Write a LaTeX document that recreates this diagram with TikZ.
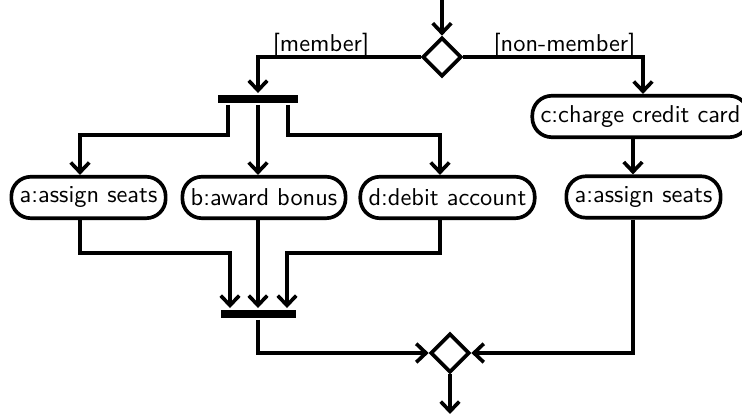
\documentclass[tikz,border=0pt]{standalone}
\usetikzlibrary{shapes.geometric,arrows.meta}
\begin{document}
\begin{tikzpicture}[x=0.41pt,y=-0.41pt,
  line width=1.5pt,
  font=\sffamily,
  act/.style={draw,rectangle,rounded corners=8pt,minimum height=17pt,inner xsep=3.4pt,inner ysep=0pt},
  bar/.style={fill=black,draw=none,rectangle,inner sep=0pt,minimum height=3.4pt},
  dec/.style={draw,diamond,inner sep=0pt,minimum width=16pt,minimum height=16pt},
  arr/.style={-{Straight Barb[length=4pt,width=7.6pt]}},
  guard/.style={anchor=base,inner sep=0pt}]
\useasboundingbox (0,0) rectangle (742,416);
% nodes
\node[dec] (top) at (442,57) {};
\node[dec] (bot) at (450,353) {};
\node[bar,minimum width=32.8pt] (fork) at (258,99) {};
\node[bar,minimum width=30.8pt] (join) at (258.5,314) {};
\node[act] (a1) at (88.5,197.5) {a:assign seats};
\node[act] (b) at (264,197.5) {b:award bonus};
\node[act] (d) at (447.5,197.5) {d:debit account};
\node[act] (c) at (640.5,116.5) {c:charge credit card};
\node[act] (a2) at (643.5,197) {a:assign seats};
\coordinate (start) at (442,0);
\coordinate (finish) at (450,414);
% guards
\node[guard] (gm) at (321,52) {[member]};
\node[guard] (gn) at (564.5,52) {[non-member]};
% connectors
\draw[arr] (start) -- (top.north);
\draw[arr] (top.west) -| (fork.north);
\draw[arr] (top.east) -| (643,0 |- c.north);
\draw[arr] (228,0 |- fork.south) |- (80,135) -- (80,0 |- a1.north);
\draw[arr] (258,0 |- fork.south) -- (258,0 |- b.north);
\draw[arr] (288,0 |- fork.south) |- (440,135) -- (440,0 |- d.north);
\draw[arr] (633,0 |- c.south) -- (633,0 |- a2.north);
\draw[arr] (80,0 |- a1.south) |- (230,253) -- (230,0 |- join.north);
\draw[arr] (258,0 |- b.south) -- (258,0 |- join.north);
\draw[arr] (440,0 |- d.south) |- (287,253) -- (287,0 |- join.north);
\draw[arr] (258,0 |- join.south) |- (bot.west);
\draw[arr] (633,0 |- a2.south) |- (bot.east);
\draw[arr] (bot.south) -- (finish);
\end{tikzpicture}
\end{document}
